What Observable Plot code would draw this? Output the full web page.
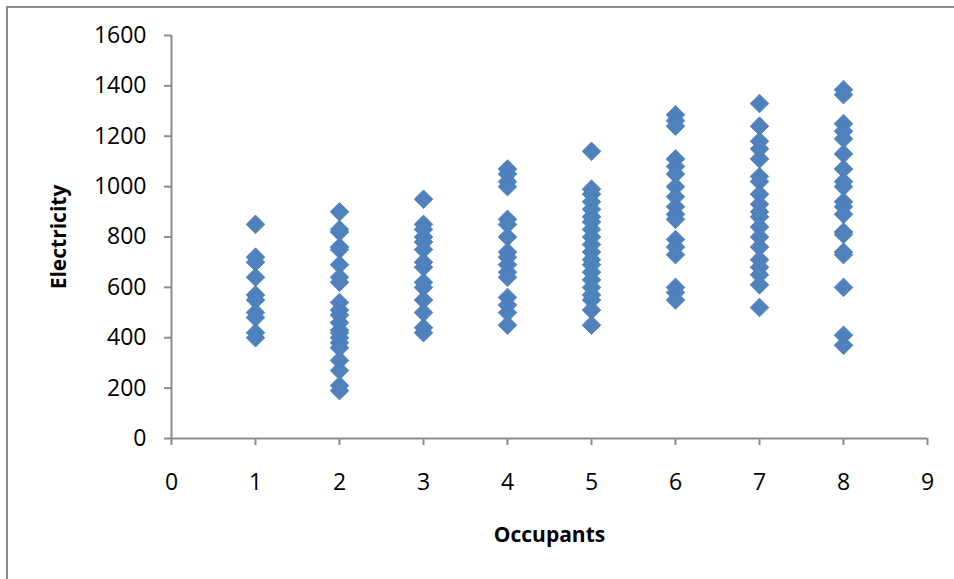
<!DOCTYPE html>
<html>
<head>
<meta charset="utf-8">
<script src="https://cdn.jsdelivr.net/npm/d3@7"></script>
<script src="https://cdn.jsdelivr.net/npm/@observablehq/plot@0.6"></script>
<style>
  html, body { margin: 0; padding: 0; background: #fff; }
  #wrap { position: relative; width: 954px; height: 579px; overflow: hidden; }
  #border { position: absolute; left: 6px; top: 6px; width: 2000px; height: 2000px;
            border-top: 2px solid #8c8c8c; border-left: 2px solid #8c8c8c; pointer-events: none; }
</style>
</head>
<body>
<div id="wrap"><div id="border"></div></div>
<script>
const xTicks = [0, 1, 2, 3, 4, 5, 6, 7, 8, 9];
const yTicks = [0, 200, 400, 600, 800, 1000, 1200, 1400, 1600];
const occupantCounts = [1, 2, 3, 4, 5, 6, 7, 8];
const elec1 = [850, 720, 700, 640, 570, 550, 500, 480, 420, 400];
const elec2 = [900, 830, 820, 760, 750, 690, 640, 620, 540, 510, 490, 460, 430, 420, 400, 380, 360, 310, 270, 210, 190];
const elec3 = [950, 850, 830, 800, 780, 750, 700, 680, 620, 600, 550, 500, 440, 420];
const elec4 = [1070, 1050, 1020, 1000, 870, 850, 800, 740, 720, 690, 660, 640, 560, 530, 500, 450];
const elec5 = [1140, 990, 970, 940, 910, 880, 860, 830, 800, 770, 740, 710, 690, 660, 630, 600, 570, 550, 510, 450];
const elec6 = [1285, 1262, 1240, 1110, 1080, 1050, 1000, 960, 920, 890, 870, 790, 760, 730, 600, 580, 550];
const elec7 = [1330, 1240, 1180, 1150, 1110, 1040, 1020, 970, 930, 900, 880, 840, 800, 760, 710, 680, 650, 610, 520];
const elec8 = [1385, 1365, 1250, 1220, 1190, 1130, 1070, 1020, 1000, 940, 920, 890, 820, 810, 740, 730, 600, 410, 370];

const series = [elec1, elec2, elec3, elec4, elec5, elec6, elec7, elec8];
const data = occupantCounts.flatMap((o, i) => series[i].map(v => ({occupants: o, electricity: v})));

const axisColor = "#8c8c8c";
const chart = Plot.plot({
  width: 954,
  height: 579,
  marginLeft: 171,
  marginRight: 27,
  marginTop: 35,
  marginBottom: 141,
  style: {fontFamily: "Open Sans", fontSize: "23px", color: "#000", background: "transparent"},
  x: {domain: [0, 9], ticks: xTicks, label: null},
  y: {domain: [0, 1600], ticks: yTicks, label: null},
  marks: [
    Plot.ruleX([0], {stroke: axisColor, strokeWidth: 2}),
    Plot.ruleY([0], {stroke: axisColor, strokeWidth: 2}),
    Plot.axisX({ticks: xTicks, tickFormat: d => String(d), tickSize: 7, tickPadding: 28, stroke: axisColor, strokeWidth: 2, strokeOpacity: 1, label: null, fill: "#000"}),
    Plot.axisY({ticks: yTicks, tickFormat: d => String(d), tickSize: 7, tickPadding: 18, stroke: axisColor, strokeWidth: 2, strokeOpacity: 1, label: null, fill: "#000"}),
    Plot.dot(data, {x: "occupants", y: "electricity", symbol: "diamond2", r: 8.4, fill: "#4f81bd", stroke: "#4a7ebb", strokeWidth: 0.8}),
    Plot.text(["Electricity"], {text: d => d, frameAnchor: "left", textAnchor: "middle", lineAnchor: "middle", dx: -112, rotate: -90, fontWeight: "bold", fontSize: 21}),
    Plot.text(["Occupants"], {text: d => d, frameAnchor: "bottom", textAnchor: "middle", lineAnchor: "middle", dy: 97, fontWeight: "bold", fontSize: 21})
  ]
});
document.getElementById("wrap").prepend(chart);
</script>
</body>
</html>
